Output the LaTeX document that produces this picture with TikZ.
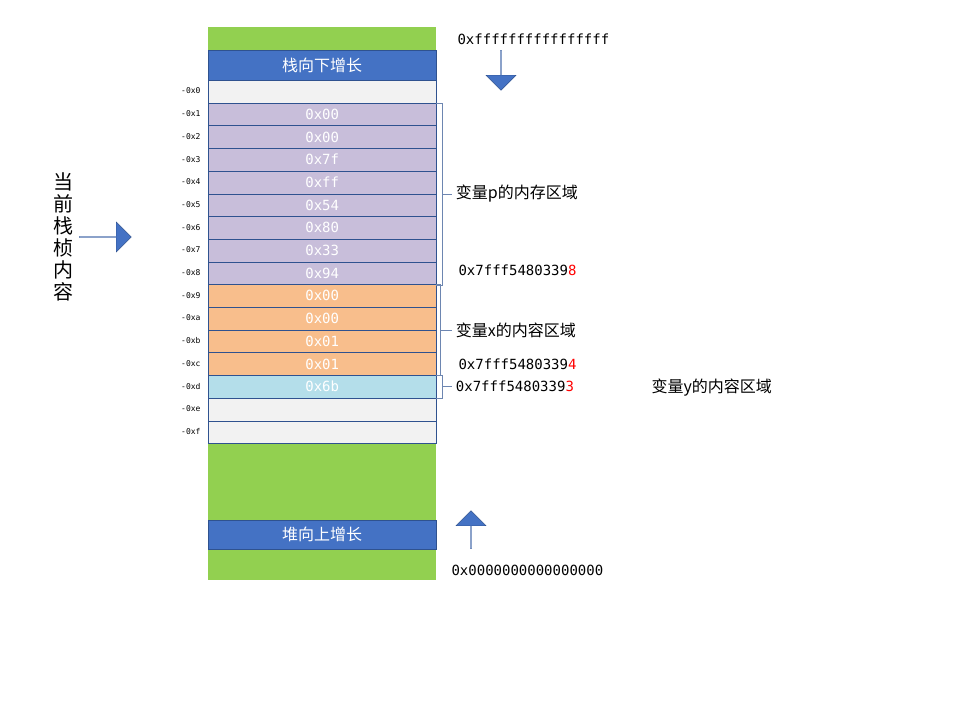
\documentclass[tikz,border=0pt]{standalone}
\usepackage{fontspec}
\setmainfont{Noto Sans CJK SC}
\setmonofont{DejaVu Sans Mono}
\usetikzlibrary{shapes.arrows,calc}
\definecolor{grn}{RGB}{146,208,80}
\definecolor{blu}{RGB}{68,114,196}
\definecolor{pur}{RGB}{200,190,218}
\definecolor{org}{RGB}{248,190,140}
\definecolor{cyn}{RGB}{180,222,234}
\definecolor{gry}{RGB}{242,242,242}
\definecolor{edg}{RGB}{47,82,143}
\tikzset{
  cell/.style={draw=edg,minimum width=228pt,minimum height=22.7pt,inner sep=0pt,anchor=north west,text=white,font=\ttfamily\fontsize{14}{14}\selectfont},
  offs/.style={anchor=east,font=\ttfamily\fontsize{8}{8}\selectfont},
  note/.style={anchor=west,font=\fontsize{16}{16}\selectfont},
  addr/.style={anchor=west,font=\ttfamily\fontsize{14}{14}\selectfont},
  bigarrow/.style={single arrow,fill=blu,draw=edg,minimum height=#1,single arrow head extend=6pt,inner sep=0pt},
}
\begin{document}
\begin{tikzpicture}[x=1pt,y=1pt,yscale=-1]
\useasboundingbox (0,0) rectangle (960,720);

% top and bottom bands
\fill[grn] (208,27) rectangle (436,50);
\node[cell,fill=blu,minimum height=30pt,font=\fontsize{16}{16}\selectfont] (down) at (208,50) {栈向下增长};
\fill[grn] (208,443) rectangle (436,580);
\node[cell,fill=blu,minimum height=29pt,font=\fontsize{16}{16}\selectfont] (up) at (208,520) {堆向上增长};

% stack cells
\foreach \i/\v/\c [count=\k from 0] in {0//gry,1/0x00/pur,2/0x00/pur,3/0x7f/pur,4/0xff/pur,5/0x54/pur,6/0x80/pur,7/0x33/pur,8/0x94/pur,9/0x00/org,a/0x00/org,b/0x01/org,c/0x01/org,d/0x6b/cyn,e//gry,f//gry}{
  \node[cell,fill=\c] (c\i) at (208,80+22.7*\k) {\v};
  \node[offs] (o\i) at (204,91+22.7*\k) {-0x\i};
}

% brackets
\draw[edg!70] (c1.north east) -- ++(6,0) coordinate (p1) -- (p1 |- c8.south east) -- (c8.south east);
\draw[edg!70] ($(p1)!0.5!(p1 |- c8.south east)$) -- ++(10,0) coordinate (pl);
\draw[edg!70] (c9.north east) -- ++(4,0) coordinate (x1) -- (x1 |- cc.south east) -- (cc.south east);
\draw[edg!70] ($(x1)!0.5!(x1 |- cc.south east)$) -- ++(12,0) coordinate (xl);
\draw[edg!70] (cd.north east) -- ++(6,0) coordinate (y1) -- (y1 |- cd.south east) -- (cd.south east);
\draw[edg!70] ($(y1)!0.5!(y1 |- cd.south east)$) -- ++(10,0) coordinate (yl);

\node[note] (pn) at (pl) {变量p的内存区域};
\node[note] (xn) at (xl) {变量x的内容区域};
\node[addr] (a8) at (455,270) {0x7fff5480339\textcolor{red}{8}};
\node[addr] (a4) at (455,364) {0x7fff5480339\textcolor{red}{4}};
\node[addr] (a3) at (yl) {0x7fff5480339\textcolor{red}{3}};
\node[note] (yn) at (648,388) {变量y的内容区域};

% addresses and arrows
\node[addr] (hi) at (454,39) {0xffffffffffffffff};
\node[addr] (lo) at (448,570) {0x0000000000000000};
\node[bigarrow=40pt,shape border rotate=270,minimum width=30pt] (ad) at (501,70) {};
\node[bigarrow=38pt,shape border rotate=90,minimum width=30pt] (au) at (471,530) {};
\node[bigarrow=52pt,minimum width=30pt] (ar) at (105,237) {};
\node[font=\fontsize{20}{22}\selectfont,align=center] (cur) at (63,237) {当\\前\\栈\\桢\\内\\容};
\end{tikzpicture}
\end{document}
